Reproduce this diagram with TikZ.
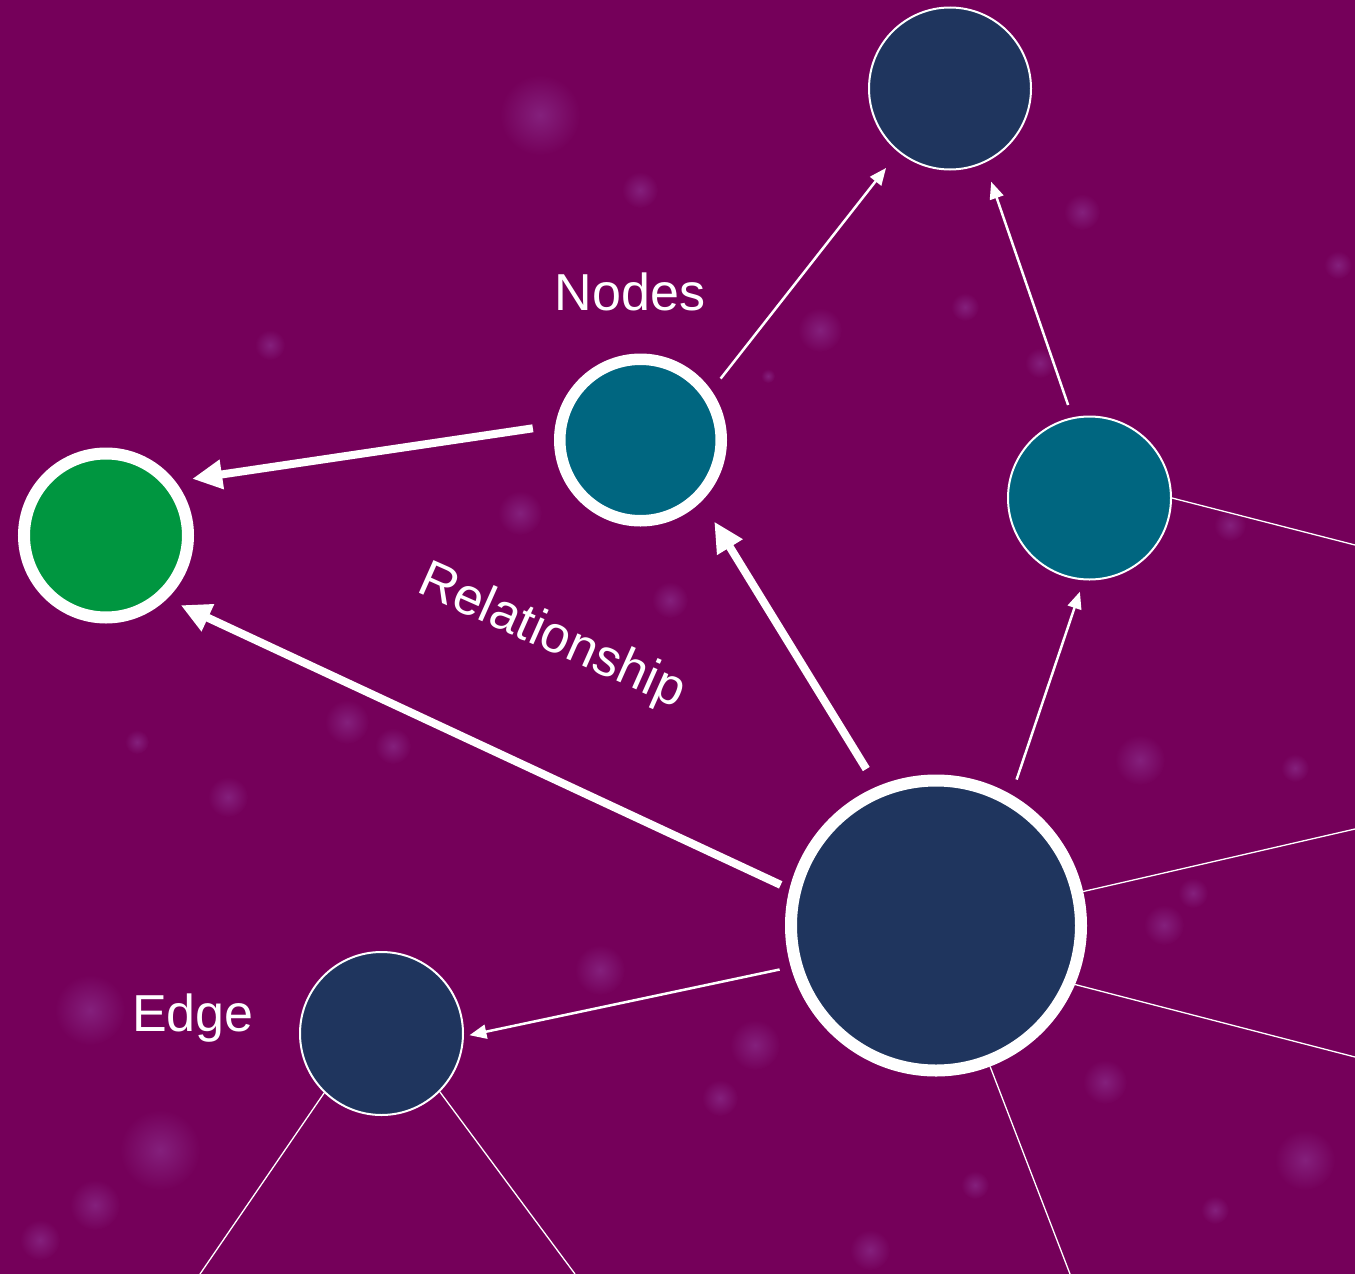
\documentclass[tikz,border=0pt]{standalone}
\usepackage{fontspec}
\setmainfont{Liberation Sans}
\usetikzlibrary{arrows.meta}
\definecolor{bg}{RGB}{117,0,90}
\definecolor{navy}{RGB}{31,53,94}
\definecolor{tealc}{RGB}{0,102,128}
\definecolor{grn}{RGB}{0,150,64}
\definecolor{spot}{RGB}{132,32,124}
\begin{document}
\begin{tikzpicture}[x=1pt,y=-1pt,
  nd/.style={circle, draw=white, inner sep=0pt},
  thinb/.style={line width=2pt},
  thickb/.style={line width=12pt},
  lbl/.style={text=white, font=\fontsize{52}{60}\selectfont, inner sep=0pt},
  bigarr/.style={draw=white, line width=8pt, -{Triangle[length=30pt,width=28pt]}},
  smallarr/.style={draw=white, line width=2.5pt, -{Triangle[length=17pt,width=14pt]}},
  link/.style={draw=white, line width=1.3pt},
  bokeh/.style={inner color=spot, outer color=bg}
]
\fill[bg] (0,0) rectangle (1355,1274);
\useasboundingbox (0,0) rectangle (1355,1274);
\clip (0,0) rectangle (1355,1274);

% background bokeh
\foreach \x/\y/\r in {540/115/40, 1082/212/18, 520/513/22, 347/722/22, 393/746/18,
  137/742/12, 228/797/20, 1164/925/20, 1193/893/15, 1105/1082/22, 1230/525/16,
  1338/265/14, 820/330/22, 768/376/7, 965/307/14, 720/1098/18, 755/1045/25,
  90/1010/35, 95/1205/25, 160/1150/40, 600/970/25, 870/1250/20, 1140/760/25,
  1295/768/14, 1215/1210/14, 975/1185/14, 1040/363/15, 640/190/18, 670/600/18,
  1305/1160/30, 270/345/15, 40/1240/20}
  \shade[bokeh] (\x,\y) circle (\r pt);

% nodes
\node[nd, thinb, fill=navy, minimum size=162pt] (top) at (950,88.5) {};
\node[nd, line width=11.5pt, fill=tealc, minimum size=161.5pt] (tn) at (640.5,440) {};
\node[nd, thickb, fill=grn, minimum size=164pt] (gr) at (106,535.5) {};
\node[nd, thinb, fill=tealc, minimum size=163pt] (rt) at (1089.5,498) {};
\node[nd, thickb, fill=navy, minimum size=290pt] (big) at (936,925.5) {};
\node[nd, thinb, fill=navy, minimum size=163pt] (ed) at (381.5,1033.5) {};

% labels
\node[lbl, anchor=base] (lnodes) at (630,310) {Nodes};
\node[lbl, anchor=base] (ledge) at (193,1031) {Edge};
\node[lbl, anchor=base, rotate=-24] (lrel) at (546,650) {Relationship};

% free ends of lines leaving the picture
\coordinate (o1) at (1355,545);
\coordinate (o2) at (1355,829);
\coordinate (o3) at (1355,1057);
\coordinate (o4) at (1070,1274);
\coordinate (o5) at (200,1274);
\coordinate (o6) at (575,1274);

% thick arrows
\draw[bigarr, shorten <=22.7pt, shorten >=17pt] (tn.170) -- (gr.38.4);
\draw[bigarr, shorten <=9.7pt, shorten >=15pt] (big.166.1) -- (gr.-46.8);
\draw[bigarr, shorten <=20.5pt, shorten >=24pt] (big.113.4) -- (tn.-45.2);

% thin arrows
\draw[smallarr, shorten <=15pt, shorten >=20pt] (tn.35.6) -- (top.-129.3);
\draw[smallarr, shorten <=13pt, shorten >=20pt] (rt.102.9) -- (top.-65.3);
\draw[smallarr, shorten <=16pt, shorten >=12pt] (big.60.6) -- (rt.-94.5);
\draw[smallarr, shorten <=11.5pt, shorten >=5.6pt] (big.196.3) -- (ed.-2.9);

% plain links
\draw[link] (rt.0) -- (o1);
\draw[link] (big.13.7) -- (o2);
\draw[link] (big.-23.2) -- (o3);
\draw[link] (big.-69.2) -- (o4);
\draw[link] (ed.-134.5) -- (o5);
\draw[link] (ed.-45.5) -- (o6);
\end{tikzpicture}
\end{document}
